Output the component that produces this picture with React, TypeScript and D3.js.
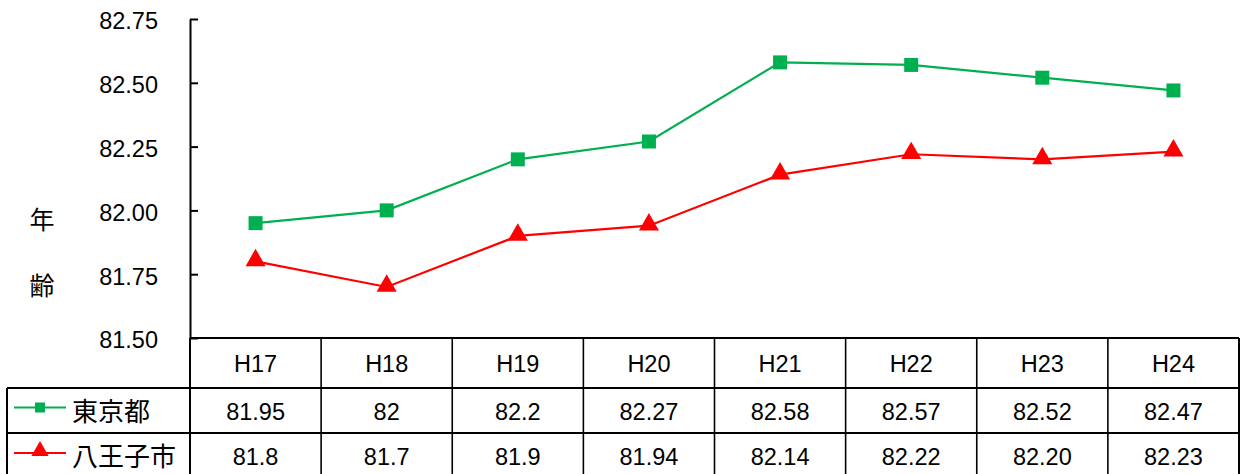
import { useEffect, useRef } from "react";
import * as d3 from "d3";

// ── Data ───────────────────────────────────────────────────────────────────────
const years = ["H17", "H18", "H19", "H20", "H21", "H22", "H23", "H24"];
const tokyo = [81.95, 82, 82.2, 82.27, 82.58, 82.57, 82.52, 82.47];
const hachioji = [81.8, 81.7, 81.9, 81.94, 82.14, 82.22, 82.2, 82.23];
const tokyoLabels = ["81.95", "82", "82.2", "82.27", "82.58", "82.57", "82.52", "82.47"];
const hachiojiLabels = ["81.8", "81.7", "81.9", "81.94", "82.14", "82.22", "82.20", "82.23"];
const yTicks = [81.5, 81.75, 82.0, 82.25, 82.5, 82.75];
const seriesNames = ["東京都", "八王子市"];

const GREEN = "#00B050";
const RED = "#FF0000";
const FONT = "'Liberation Sans', 'Noto Sans CJK JP', sans-serif";
const FS = 23.5;

// ── Component ──────────────────────────────────────────────────────────────────
export default function App() {
  const svgRef = useRef<SVGSVGElement>(null);

  useEffect(() => {
    if (!svgRef.current) return;
    const width = 1248;
    const height = 474;
    const left = 190;
    const right = 1239;
    const top = 19;
    const bottom = 338;
    const rowTops = [338, 388, 433, 480];
    const legendLeft = 7;

    const x = d3.scaleBand<string>().domain(years).range([left, right]);
    const y = d3.scaleLinear().domain([81.5, 82.75]).range([bottom, top]);

    const svg = d3.select(svgRef.current);
    svg.selectAll("*").remove();
    svg.attr("width", width).attr("height", height);

    // ── Y Axis ───────────────────────────────────────────────────────────────
    const yAxisG = svg
      .append("g")
      .attr("transform", `translate(${left},0)`)
      .call(
        d3
          .axisLeft(y)
          .tickValues(yTicks)
          .tickFormat(d3.format(".2f"))
          .tickSize(-8)
          .tickSizeOuter(0)
          .tickPadding(32)
      );
    yAxisG.select(".domain").attr("stroke", "#000").attr("stroke-width", 2);
    yAxisG.selectAll(".tick line").attr("stroke", "#000").attr("stroke-width", 2);
    yAxisG
      .selectAll(".tick text")
      .attr("fill", "#000")
      .attr("font-size", FS)
      .attr("font-family", FONT)
      .attr("dy", "0.42em");

    // Y label (vertical, one char per line)
    ["年", "齢"].forEach((ch, i) => {
      svg
        .append("text")
        .attr("x", 42)
        .attr("y", 220 + i * 66)
        .attr("dy", "0.36em")
        .attr("text-anchor", "middle")
        .attr("font-size", 25)
        .attr("font-family", FONT)
        .text(ch);
    });

    // ── Lines & markers ──────────────────────────────────────────────────────
    const cx = (i: number) => (x(years[i]) as number) + x.bandwidth() / 2;
    const line = d3
      .line<number>()
      .x((_, i) => cx(i))
      .y((d) => y(d));

    svg
      .append("path")
      .datum(tokyo)
      .attr("d", line)
      .attr("fill", "none")
      .attr("stroke", GREEN)
      .attr("stroke-width", 2.2);
    svg
      .append("path")
      .datum(hachioji)
      .attr("d", line)
      .attr("fill", "none")
      .attr("stroke", RED)
      .attr("stroke-width", 2.2);

    const square = d3.symbol().type(d3.symbolSquare).size(196);
    const triangle = d3.symbol().type(d3.symbolTriangle).size(175);

    svg
      .selectAll(".sq")
      .data(tokyo)
      .enter()
      .append("path")
      .attr("d", square)
      .attr("transform", (d, i) => `translate(${cx(i)},${y(d)})`)
      .attr("fill", GREEN);
    svg
      .selectAll(".tri")
      .data(hachioji)
      .enter()
      .append("path")
      .attr("d", triangle)
      .attr("transform", (d, i) => `translate(${cx(i)},${y(d) - 1})`)
      .attr("fill", RED);

    // ── Data table ───────────────────────────────────────────────────────────
    const t = svg.append("g").attr("stroke", "#000").attr("fill", "none");
    // horizontal lines
    t.append("line").attr("x1", left).attr("x2", right).attr("y1", rowTops[0]).attr("y2", rowTops[0]).attr("stroke-width", 2);
    [rowTops[1], rowTops[2]].forEach((yy) =>
      t.append("line").attr("x1", legendLeft).attr("x2", right).attr("y1", yy).attr("y2", yy).attr("stroke-width", 2)
    );
    // vertical lines
    years.forEach((yr, i) => {
      const xx = x(yr) as number;
      t.append("line")
        .attr("x1", xx)
        .attr("x2", xx)
        .attr("y1", rowTops[0])
        .attr("y2", height)
        .attr("stroke-width", i === 0 ? 2 : 1.6);
    });
    t.append("line").attr("x1", right).attr("x2", right).attr("y1", rowTops[0]).attr("y2", height).attr("stroke-width", 2);
    t.append("line").attr("x1", legendLeft).attr("x2", legendLeft).attr("y1", rowTops[1]).attr("y2", height).attr("stroke-width", 2);

    const rows = [years, tokyoLabels, hachiojiLabels];
    rows.forEach((labels, r) => {
      const cy = r < 2 ? (rowTops[r] + rowTops[r + 1]) / 2 : 456;
      svg
        .selectAll(`.cell${r}`)
        .data(labels)
        .enter()
        .append("text")
        .attr("x", (_, i) => cx(i))
        .attr("y", cy + 1)
        .attr("dy", "0.36em")
        .attr("text-anchor", "middle")
        .attr("font-size", FS)
        .attr("font-family", FONT)
        .attr("fill", "#000")
        .text((d) => d);
    });

    // legend cells
    const legendCy = [(rowTops[1] + rowTops[2]) / 2, 456];
    const colors = [GREEN, RED];
    seriesNames.forEach((name, i) => {
      const cyy = legendCy[i];
      svg.append("line").attr("x1", 14).attr("x2", 66).attr("y1", cyy - 3).attr("y2", cyy - 3).attr("stroke", colors[i]).attr("stroke-width", 2);
      svg
        .append("path")
        .attr("d", i === 0 ? d3.symbol().type(d3.symbolSquare).size(100) : d3.symbol().type(d3.symbolTriangle).size(130))
        .attr("transform", `translate(40,${cyy - 3 - (i === 1 ? 2 : 0)})`)
        .attr("fill", colors[i]);
      svg
        .append("text")
        .attr("x", 72)
        .attr("y", cyy + 1)
        .attr("dy", "0.36em")
        .attr("font-size", 26)
        .attr("font-family", FONT)
        .attr("fill", "#000")
        .text(name);
    });
  }, []);

  return (
    <svg
      ref={svgRef}
      width={1248}
      height={474}
      style={{ position: "absolute", left: 0, top: 0, background: "#fff" }}
    />
  );
}
